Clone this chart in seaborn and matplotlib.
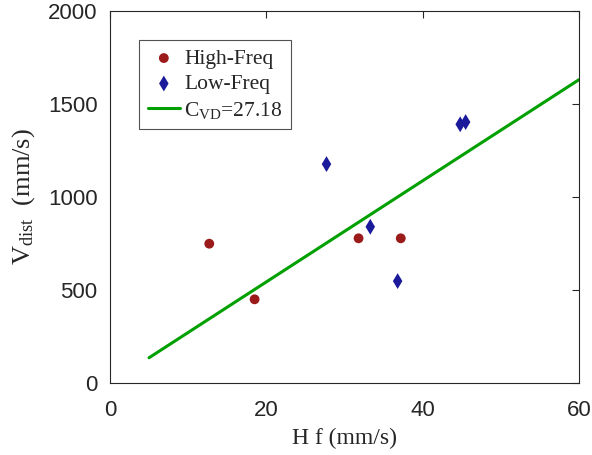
import numpy as np
import pandas as pd
import matplotlib
matplotlib.use("Agg")
import matplotlib.pyplot as plt
import seaborn as sns

# Data
high_x = [12.7, 18.5, 31.8, 37.2]
high_y = [749, 450, 778, 778]
low_x = [27.7, 33.3, 36.8, 44.8, 45.5]
low_y = [1177, 840, 548, 1391, 1403]
fit_slope = 27.18
fit_x = [5.0, 60.0]

sns.set_theme(style="white")
plt.rcParams['font.family'] = ['Liberation Sans', 'DejaVu Sans']
plt.rcParams['mathtext.fontset'] = 'custom'
plt.rcParams['mathtext.rm'] = 'Liberation Serif'
plt.rcParams['mathtext.it'] = 'Liberation Serif:italic'

fig = plt.figure(figsize=(5.92, 4.55), dpi=100)
ax = fig.add_axes([0.1858, 0.1582, 0.7922, 0.8176])

df_high = pd.DataFrame({"x": high_x, "y": high_y})
df_low = pd.DataFrame({"x": low_x, "y": low_y})
df_fit = pd.DataFrame({"x": fit_x, "y": [fit_slope * v for v in fit_x]})

sns.scatterplot(data=df_high, x="x", y="y", ax=ax, marker="o", s=50,
                color="#9b1a1a", edgecolor="none", label="High-Freq", zorder=3)
sns.scatterplot(data=df_low, x="x", y="y", ax=ax, marker="d", s=65,
                color="#1a1a9b", edgecolor="none", label="Low-Freq", zorder=3)
sns.lineplot(data=df_fit, x="x", y="y", ax=ax, color="#00a000", linewidth=2.2,
             label=r"$\mathregular{C_{VD}}$=27.18", zorder=2)

ax.set_xlim(0, 60)
ax.set_ylim(0, 2000)
ax.set_xticks([0, 20, 40, 60])
ax.set_yticks([0, 500, 1000, 1500, 2000])
ax.tick_params(direction="in", length=5, width=0.8, color="#262626",
               top=True, right=True, labelsize=16, labelcolor="#262626")
ax.tick_params(axis="x", pad=12)
ax.tick_params(axis="y", pad=9)
for sp in ax.spines.values():
    sp.set_color("#262626")
    sp.set_linewidth(0.8)

ax.set_xlabel("H f (mm/s)", fontfamily="Liberation Serif", fontsize=17,
              color="#262626", labelpad=5)
ax.set_ylabel(r"$\mathregular{V_{dist}}$  (mm/s)", fontfamily="Liberation Serif",
              fontsize=19, color="#262626", labelpad=8)

leg = ax.legend(loc="upper left", bbox_to_anchor=(0.062, 0.922), frameon=True,
                fancybox=False, prop={"family": "Liberation Serif", "size": 15.5},
                handlelength=1.5, borderpad=0.4, labelspacing=0.25,
                handletextpad=0.2, borderaxespad=0)
leg.get_frame().set_edgecolor("#262626")
leg.get_frame().set_linewidth(0.8)

fig.savefig("out.png", dpi=100)
